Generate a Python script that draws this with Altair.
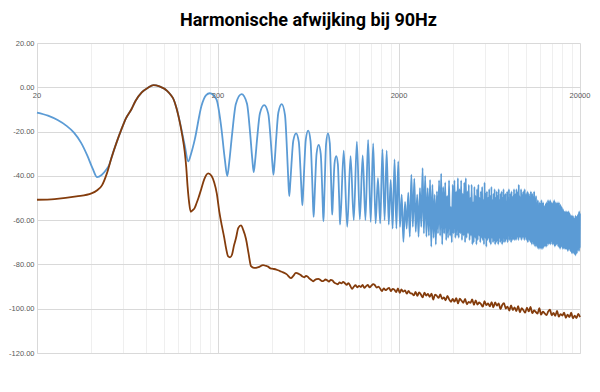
import altair as alt
import pandas as pd

TITLE = "Harmonische afwijking bij 90Hz"

# x-axis labels (drawn at the 0 dB line, as in the original)
x_label_freqs = [20, 200, 2000, 20000]
x_labels = ["20", "200", "2000", "20000"]
y_ticks = [20, 0, -20, -40, -60, -80, -100, -120]
# vertical gridlines (Excel-style: 20, 40, ..., 180, 200, 400, ...)
x_grid = [20, 40, 60, 80, 100, 120, 140, 160, 180,
          200, 400, 600, 800, 1000, 1200, 1400, 1600, 1800,
          2000, 4000, 6000, 8000, 10000, 12000, 14000, 16000, 18000, 20000]

# ---- blue series: low-frequency part (Hz, dB) ----
blue_low_f = [20, 23, 26, 29, 32, 35, 38, 40.5, 43, 45.5, 48, 50.4, 51.5, 55, 58.6, 62, 66.5, 70,
              75.8, 82, 88, 95, 104.7, 110, 113.6, 118, 123, 131, 137, 142, 149, 162, 172, 180,
              196, 208, 218, 225, 231, 239, 251, 270, 289, 301, 309, 315, 321, 329, 341, 360,
              379, 391, 399, 405, 411, 419, 431, 450, 469, 481, 489, 495, 501, 509, 521, 540,
              559, 571, 579, 585, 591, 599, 611, 630, 649, 661, 669, 675, 681, 689, 701, 720,
              739, 751, 759, 765, 771, 779, 791, 810, 829, 841, 849, 855, 861, 869, 881, 900,
              919, 931, 939]
blue_low_db = [-11.4, -12.8, -14.8, -17.3, -20.5, -25, -31, -36.5, -40.6, -39.6, -37.5, -34.5, -32,
               -25, -18.9, -14, -9.9, -6.2, -2.3, -0.2, 1.0, 0.4, -1.6, -3.6, -5.4, -9.5, -15.5,
               -26.3, -33.5, -30, -23.4, -8.4, -3.5, -2.7, -5.4, -17.4, -32.3, -40.1, -33.4, -21.6,
               -7.5, -3.1, -7.3, -20.7, -32, -38.3, -32.9, -23.2, -11.7, -8.1, -11.9, -23.8, -33.8,
               -39.5, -33.8, -23.6, -11.4, -7.6, -12.6, -28.4, -41.6, -49.1, -44, -35, -24.2, -20.8,
               -24.7, -37, -47.5, -53.3, -47.2, -36.5, -23.6, -19.6, -24.3, -39, -51.5, -58.5, -52.7,
               -42.3, -29.9, -26, -30.1, -43.3, -54.3, -60.5, -53.4, -40.7, -25.6, -20.8, -25.2,
               -39.2, -50.9, -57.5, -52.7, -44.3, -34.3, -31.1, -34.8, -46.6, -56]

# ---- blue series: minima every 90 Hz starting at 945 Hz ----
blue_trough_db = [
    -62, -63, -60, -59.7, -60, -60.8, -61.5, -61.5, -60, -62,
    -63.8, -63.8, -63, -69.8, -63.8, -67.5, -63, -65.3, -67.5, -63,
    -66, -67.5, -67, -72, -68, -71, -66,
    -67, -71, -66, -69, -68, -67, -70, -66, -68, -67,
    -68, -66, -69, -67, -70, -68, -66, -69, -67, -71,
    -70, -68, -71, -69, -67, -70, -68, -69, -71, -68,
    -72, -69, -68, -70, -71, -68, -70, -69, -71, -70,
    -69, -71, -68, -70, -69, -71, -70, -68, -70, -69,
    -68, -70, -67, -69, -68, -70, -67, -69, -68, -69,
    -67, -69, -68, -67, -69, -68, -66, -68, -69, -67,
    -68, -67, -69, -68, -67, -69, -68, -70, -68, -69,
    -69, -70, -68, -71, -70, -69, -71, -70, -72, -70,
    -71, -72, -70, -73, -71, -72, -73, -71, -72, -73,
    -72, -73, -71, -72, -70, -72, -71, -70, -72, -71,
    -70, -69, -71, -70, -69, -71, -70, -69, -70, -71,
    -70, -69, -71, -70, -72, -70, -71, -69, -71, -70,
    -71, -72, -70, -72, -71, -73, -71, -72, -70, -72,
    -72, -73, -71, -72, -73, -72, -71, -73, -72, -73,
    -72, -73, -72, -74, -72, -73, -71, -73, -72, -74,
    -73, -74, -73, -75, -74, -73, -75, -74, -73, -75,
    -75, -74, -76, -74, -75, -73, -75, -74, -73, -72,
    -73, -72, -74, -73, -72]

# ---- blue series: maxima every 90 Hz starting at 990 Hz ----
blue_peak_db = [
    -28.6, -31.1, -24.5, -30.8, -23.8, -25.3, -41, -28.1, -28.6, -41.8,
    -32.6, -33.5, -48.5, -51.8, -47.6, -39.5, -41.3, -48.5, -45.5, -36.5,
    -40, -45.5, -41.8, -44, -48.5, -47, -42,
    -39, -45, -43, -49, -42, -54, -44, -42, -47, -41,
    -46, -42, -48, -43, -41, -47, -44, -50, -44, -52,
    -45, -49, -46, -44, -50, -47, -45, -51, -43, -48,
    -47, -50, -46, -49, -45, -51, -48, -46, -50, -47,
    -49, -46, -51, -48, -47, -50, -46, -49, -48, -52,
    -47, -50, -46, -51, -48, -47, -50, -49, -46, -51,
    -48, -46, -50, -47, -44, -49, -51, -46, -48, -50,
    -47, -51, -46, -49, -48, -50, -47, -52, -48, -49,
    -50, -47, -51, -48, -49, -52, -47, -50, -53, -49,
    -52, -54, -51, -53, -55, -52, -54, -53, -51, -55,
    -53, -52, -55, -54, -56, -53, -55, -52, -54, -53,
    -51, -54, -52, -55, -51, -53, -54, -52, -55, -53,
    -52, -54, -51, -55, -53, -52, -54, -56, -52, -54,
    -53, -55, -52, -54, -56, -53, -55, -57, -54, -56,
    -57, -55, -58, -56, -57, -59, -56, -58, -57, -59,
    -56, -58, -57, -59, -56, -58, -60, -57, -59, -58,
    -59, -58, -60, -59, -61, -58, -60, -59, -61, -60,
    -59, -61, -58, -60, -62, -59, -61, -58, -60, -59,
    -57, -59, -56, -58, -57]

# ---- brown series: low-frequency part (Hz, dB) ----
brown_low_f = [20, 25, 33, 40, 43, 45.7, 48.6, 51.5, 55, 58.6, 62, 66.5, 70, 75.8, 82, 88, 95,
               104.7, 110, 113.6, 118, 122.8, 126.5, 130.9, 133.5, 135.9, 138.5, 141.3, 145,
               148.5, 152, 155.9, 161.8, 168, 176.6, 184, 190.6, 197, 203.2, 210, 216.6, 222,
               227.6, 233, 239.2, 245, 251.3, 259, 267.9, 276, 285.6, 295, 304.4, 316.2, 335,
               354.7, 366, 378.1, 390, 403, 420, 440, 457.9, 480, 505.6, 520, 538.9]
brown_low_db = [-50.8, -50.5, -49.3, -47.9, -46.5, -44.3, -39, -32, -25, -18.9, -14, -9.9, -6.2,
                -2.3, -0.2, 1.0, 0.4, -1.6, -3.6, -5.4, -9.5, -15.5, -21, -29, -36, -45, -52,
                -56.2, -55.5, -54.6, -52.5, -50, -45.8, -41.5, -38.9, -40, -43, -48, -56, -62.5,
                -68, -73, -76.4, -76.8, -75.5, -71.5, -68.2, -63.5, -62.4, -64.5, -68.5, -75,
                -80.8, -81.6, -81.2, -80.3, -80.6, -81.0, -81.8, -82, -82.3, -83, -83.6, -84.5,
                -86.2, -85.3, -83.8]

# ---- brown series: noisy high-frequency part, 160 log-spaced readings 560 Hz .. 20 kHz ----
brown_hf_start, brown_hf_end = 560, 20000
brown_hf_db = [
    -84.3, -84.8, -85.5, -85.8, -85.2, -85.6, -86.4, -87.0, -87.6, -87.0,
    -86.6, -86.5, -86.9, -87.5, -87.4, -86.8, -87.2, -87.8, -87.0, -87.3,
    -88.2, -88.6, -89.0, -88.1, -88.6, -87.9, -88.5, -89.2, -88.4, -89.6,
    -91.0, -90.1, -89.4, -90.3, -89.7, -90.2, -89.2, -90.6, -89.8, -89.3,
    -90.4, -89.6, -88.9, -89.4, -90.5, -90.0, -91.0, -92.0, -90.8, -91.6,
    -91.1, -90.6, -92.1, -91.0, -91.4, -92.5, -90.8, -92.8, -91.3, -92.3,
    -91.7, -93.2, -92.0, -93.0, -93.2, -94.0, -92.4, -94.2, -92.6, -93.6,
    -94.9, -92.8, -94.1, -93.3, -94.6, -93.2, -95.9, -93.6, -94.2, -95.1,
    -93.5, -95.6, -94.9, -96.2, -94.2, -95.8, -96.9, -95.6, -96.8, -95.2,
    -97.6, -95.5, -96.4, -97.3, -95.6, -98.0, -96.9, -97.4, -95.8, -98.3,
    -96.2, -98.1, -97.2, -97.9, -99.1, -96.6, -98.4, -97.6, -98.9, -97.0,
    -99.4, -97.1, -98.6, -97.6, -100.2, -98.3, -97.5, -99.9, -99.1, -100.8,
    -98.5, -100.6, -99.4, -101.1, -98.8, -101.6, -99.8, -100.7, -101.8, -99.5,
    -101.2, -99.2, -102.0, -100.8, -101.5, -102.2, -99.8, -102.7, -101.3, -102.1,
    -102.9, -101.3, -100.4, -103.0, -101.9, -103.2, -101.0, -103.6, -102.4, -103.1,
    -101.8, -104.1, -102.7, -103.8, -101.8, -104.4, -103.1, -104.2, -102.3, -103.8]

# ---------------- build tables ----------------
trough_f = [945 + 90 * i for i in range(len(blue_trough_db))]
peak_f = [990 + 90 * i for i in range(len(blue_peak_db))]
blue = pd.DataFrame({"f": blue_low_f + trough_f + peak_f,
                     "db": blue_low_db + blue_trough_db + blue_peak_db})
blue = blue.sort_values("f").reset_index(drop=True)

n_hf = len(brown_hf_db)
hf_f = [brown_hf_start * (brown_hf_end / brown_hf_start) ** (i / (n_hf - 1)) for i in range(n_hf)]
brown = pd.DataFrame({"f": brown_low_f + hf_f, "db": brown_low_db + brown_hf_db})
brown = brown.sort_values("f").reset_index(drop=True)

labels = pd.DataFrame({"f": x_label_freqs, "db": [0] * len(x_labels), "label": x_labels})

LABEL_FONT = "Liberation Sans"
GRID = "#d9d9d9"

x_scale = alt.Scale(type="log", domain=[20, 20000], nice=False)
y_scale = alt.Scale(domain=[-120, 20], nice=False, zero=False)

x_enc = alt.X("f:Q", scale=x_scale, axis=alt.Axis(
    values=x_grid, labels=False, ticks=False, title=None, domain=True,
    domainColor=GRID, grid=True,
    gridColor={"condition": {"test": "datum.value == 200 || datum.value == 2000 || datum.value == 20 || datum.value == 20000",
                             "value": "#dadada"}, "value": "#efefef"}))
y_enc = alt.Y("db:Q", scale=y_scale, axis=alt.Axis(
    values=y_ticks, title=None, ticks=False, domain=True, domainColor=GRID,
    gridColor=GRID, labelFontSize=7.5, labelColor="#595959", labelFont=LABEL_FONT,
    labelPadding=3,
    labelExpr="replace(format(datum.value, '.2f'), '\u2212', '-')"))

blue_line = alt.Chart(blue).mark_line(color="#5B9BD5", strokeWidth=1.8, interpolate="monotone").encode(
    x=x_enc, y=y_enc, order="f:Q")
brown_line = alt.Chart(brown).mark_line(color="#843C0C", strokeWidth=1.8, interpolate="monotone").encode(
    x=x_enc, y=y_enc, order="f:Q")
xlabels = alt.Chart(labels).mark_text(dy=9, fontSize=7.5, color="#595959", font=LABEL_FONT).encode(
    x=x_enc, y=y_enc, text="label:N")

chart = alt.layer(blue_line, brown_line, xlabels).properties(
    width=543, height=310,
    autosize=alt.AutoSizeParams(type="none"),
    padding={"left": 29, "top": 35, "right": 12, "bottom": 31},
    background="white",
    title=alt.TitleParams(TITLE, fontSize=18, font="Roboto",
                          fontWeight="bold", color="#000000", anchor="middle", offset=9),
).configure_view(stroke=None)

chart.save("out.html", embed_options={"renderer": "svg", "actions": False})
